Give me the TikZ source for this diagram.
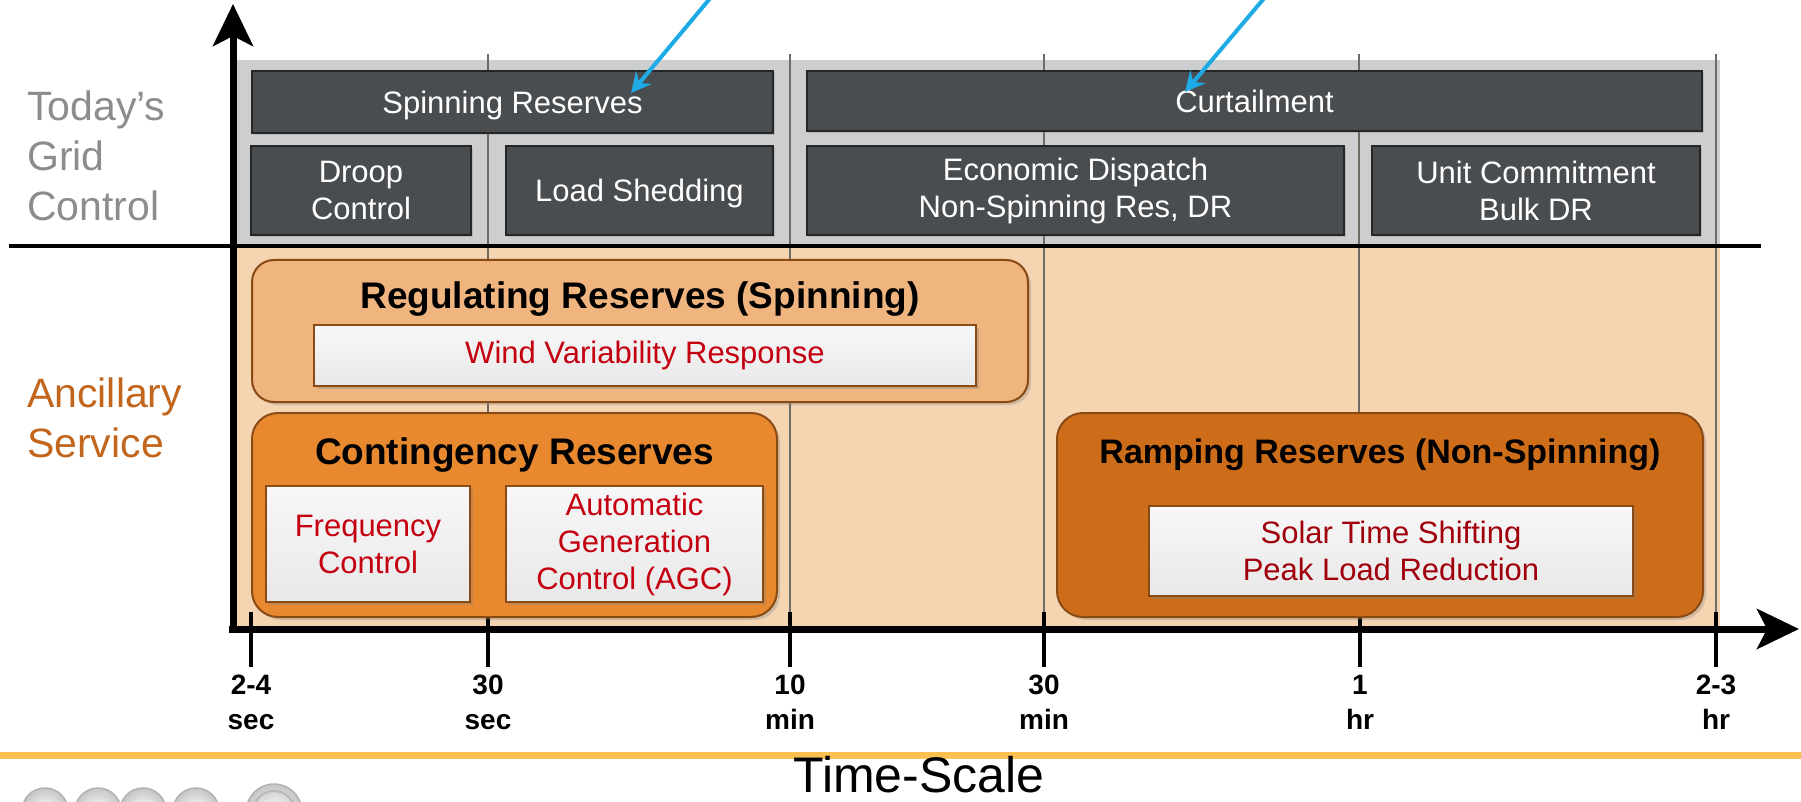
\documentclass[tikz,border=0pt]{standalone}
\usepackage{fontspec}
\setmainfont{Liberation Sans}
\usetikzlibrary{arrows.meta,shadows}
\definecolor{ctrlgrey}{HTML}{4A4D50}
\definecolor{bandgrey}{HTML}{CDCED0}
\definecolor{peach}{HTML}{F5D4B2}
\definecolor{reglight}{HTML}{F0B47E}
\definecolor{contorange}{HTML}{E8892F}
\definecolor{rampbrown}{HTML}{CE6D19}
\definecolor{edgebrown}{HTML}{8A4A14}
\definecolor{servred}{HTML}{C40010}
\definecolor{servdark}{HTML}{A0000C}
\definecolor{todaygrey}{HTML}{8C8C8C}
\definecolor{ancorange}{HTML}{C2661D}
\definecolor{pointblue}{HTML}{1DAAE5}
\definecolor{footorange}{HTML}{FBC04F}
\definecolor{gridgrey}{HTML}{6E6A66}
\tikzset
{
    ctrlbox/.style   = {rectangle, draw=black!85, line width=2pt, fill=ctrlgrey, text=white, align=center, inner sep=0pt, font=\fontsize{31}{37}\selectfont, drop shadow={opacity=0.3, shadow xshift=2pt, shadow yshift=-2pt}},
    servgroup/.style = {rectangle, rounded corners=26pt, draw=edgebrown, line width=2pt, inner sep=0pt, drop shadow={opacity=0.3, shadow xshift=3pt, shadow yshift=-3pt}},
    servbox/.style   = {rectangle, draw=edgebrown, line width=1.8pt, top color=white!97!black, bottom color=white!91!black, align=center, inner sep=0pt, text=servred, font=\fontsize{31}{37}\selectfont, drop shadow={opacity=0.35, shadow xshift=3pt, shadow yshift=-3pt}},
    grouptitle/.style = {inner sep=0pt, font=\bfseries\fontsize{37}{44}\selectfont},
    sidelabel/.style = {anchor=west, align=left, inner sep=0pt, font=\fontsize{41}{50}\selectfont},
    ticklabel/.style = {align=center, inner sep=0pt, font=\bfseries\fontsize{28}{35}\selectfont},
    axisline/.style  = {line width=7pt, -{Stealth[length=42pt, width=40pt, inset=10pt]}},
    gridline/.style  = {line width=2.5pt, draw=gridgrey},
    tickmark/.style  = {line width=3.5pt, draw=black},
    pointer/.style   = {line width=4pt, draw=pointblue, -{Stealth[length=20pt, width=20pt, inset=7pt]}},
    logoball/.style  = {inner color=white, outer color=gray!45, draw=gray!60, line width=1.5pt}
}

\begin{document}
\begin{tikzpicture}[x=1pt, y=-1pt]
\useasboundingbox (0,0) rectangle (1801,802);

\fill[bandgrey] (236,60) rectangle (1720,246);
\fill[peach] (236,246) rectangle (1720,629);
\foreach \x in {488,790,1044,1359,1716}
    \draw[gridline] (\x,54) -- (\x,629);

\foreach \x/\a/\b in {251/2-4/sec, 488/30/sec, 790/10/min, 1044/30/min, 1360/1/hr, 1716/2-3/hr}
{
    \draw[tickmark] (\x,612) -- (\x,667);
    \node (tick\x)[ticklabel] at (\x,702) {\a\\\b};
}

\node (spin)[ctrlbox, minimum width=521pt, minimum height=62pt, text depth=0pt]  at (512.5,102)  {Spinning Reserves};
\node (curt)[ctrlbox, minimum width=895pt, minimum height=60pt, text depth=0pt]  at (1254.5,101) {Curtailment};
\node (droop)[ctrlbox, minimum width=220pt, minimum height=89pt] at (361,190.5)  {Droop\\Control};
\node (shed)[ctrlbox, minimum width=267pt, minimum height=89pt, text depth=0pt]  at (639.5,190.5) {Load Shedding};
\node (econ)[ctrlbox, minimum width=537pt, minimum height=89pt]  at (1075.5,190.5) {Economic Dispatch\\Non-Spinning Res, DR};
\node (unit)[ctrlbox, minimum width=328pt, minimum height=89pt]  at (1536,190.5) {Unit Commitment\\Bulk DR};

\node (reg)[servgroup, fill=reglight, rounded corners=22pt, minimum width=776pt, minimum height=142pt] at (640,331) {};
\node (regt)[grouptitle] at (640,299) {Regulating Reserves (Spinning)};
\node (wind)[servbox, minimum width=662pt, minimum height=61pt] at (645,355.5) {Wind Variability Response};

\node (cont)[servgroup, fill=contorange, minimum width=525pt, minimum height=204pt] at (514.5,515) {};
\node (contt)[grouptitle] at (514.5,455) {Contingency Reserves};
\node (freq)[servbox, minimum width=204pt, minimum height=116pt] at (368,544) {Frequency\\Control};
\node (agc)[servbox, minimum width=257pt, minimum height=116pt]  at (634.5,544) {Automatic\\Generation\\Control (AGC)};

\node (ramp)[servgroup, fill=rampbrown, minimum width=646pt, minimum height=204pt] at (1380,515) {};
\node (rampt)[grouptitle, font=\bfseries\fontsize{34}{40}\selectfont] at (1380,455) {Ramping Reserves (Non-Spinning)};
\node (solar)[servbox, text=servdark, minimum width=484pt, minimum height=90pt] at (1391,551) {Solar Time Shifting\\Peak Load Reduction};

\node (today)[sidelabel, text=todaygrey] at (27,156) {Today’s\\Grid\\Control};
\node (anc)[sidelabel, text=ancorange]   at (27,418) {Ancillary\\Service};

\draw[line width=3.5pt] (9,246) -- (1761,246);

\coordinate (o)    at (233,633);
\coordinate (ytip) at (233,4);
\coordinate (xo)   at (229,629);
\coordinate (xtip) at (1799,629);
\draw[axisline] (o)  -- (ytip);
\draw[axisline] (xo) -- (xtip);

\coordinate (src1) at (712,-4);
\coordinate (tip1) at (631,93);
\coordinate (src2) at (1266,-4);
\coordinate (tip2) at (1185,92);
\draw[pointer] (src1) -- (tip1);
\draw[pointer] (src2) -- (tip2);

\draw[line width=7pt, footorange] (0,755) -- (1801,755);
\node (tscale)[anchor=base, inner sep=0pt, font=\fontsize{50}{60}\selectfont] at (919,792) {Time-Scale};

\begin{scope}
\clip (0,0) rectangle (1801,802);
\foreach \x in {45,98,143,196}
    \draw[logoball] (\x,811) circle (23pt);
\draw[logoball] (274,812) circle (28pt);
\draw[line width=2pt, draw=gray!55] (274,812) circle (21pt);
\end{scope}

\end{tikzpicture}
\end{document}
